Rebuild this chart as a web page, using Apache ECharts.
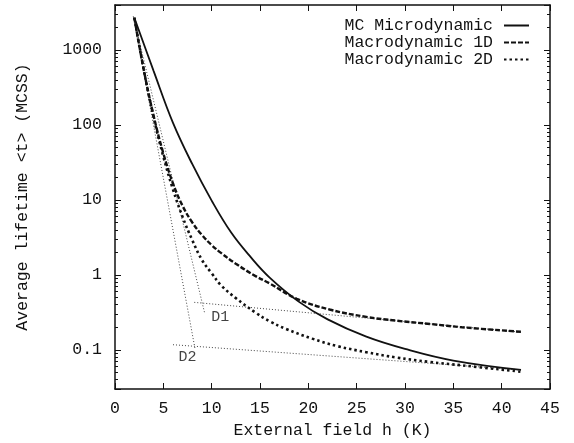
<!DOCTYPE html>
<html>
<head>
<meta charset="utf-8">
<script src="https://cdn.jsdelivr.net/npm/echarts@6/dist/echarts.min.js"></script>
<style>
html, body { margin: 0; padding: 0; background: #fff; }
#chart { width: 574px; height: 443px; }
</style>
</head>
<body>
<div id="chart"></div>
<script>
// values (h in K, lifetime in MCSS)
var mcH = [2, 4, 6, 8, 10, 12, 14, 16, 19, 22, 26, 30, 35, 42];
var mcT = [2700, 525, 107, 30, 9.8, 3.7, 1.75, 0.92, 0.44, 0.255, 0.15, 0.103, 0.072, 0.054];

var d1H = [2, 3, 4, 5, 6, 7, 8, 9, 10, 11, 12.5, 14.5, 16, 18.8, 22.2, 26, 29.1, 32.8, 35.9, 42];
var d1T = [2700, 525, 132, 42, 16.6, 8.3, 5.0, 3.4, 2.5, 1.95, 1.41, 0.97, 0.77, 0.48, 0.345, 0.275, 0.245, 0.22, 0.2, 0.174];

var d2H = [2, 3, 4, 5, 6, 7, 8, 9, 10, 11, 12.5, 14.5, 16, 17.7, 20.4, 23, 26, 29.1, 32.5, 35.9, 42];
var d2T = [2700, 525, 126, 38, 13.8, 5.9, 2.9, 1.58, 1.05, 0.72, 0.49, 0.316, 0.24, 0.19, 0.141, 0.112, 0.093, 0.079, 0.069, 0.062, 0.051];

// thin dotted guide lines (D1, D2)
var g1SteepH = [1.9, 9.3];
var g1SteepT = [2800, 0.3];
var g1FlatH = [8.2, 42];
var g1FlatT = [0.43, 0.172];
var g2SteepH = [1.9, 8.3];
var g2SteepT = [2800, 0.1];
var g2FlatH = [6.0, 42];
var g2FlatT = [0.117, 0.054];

var noteH = [10.9, 7.5];
var noteT = [0.27, 0.079];
var noteText = ["D1", "D2"];

var xTicks = [0, 5, 10, 15, 20, 25, 30, 35, 40, 45];

var seriesNames = ["MC Microdynamic", "Macrodynamic 1D", "Macrodynamic 2D"];

function pairs(h, t) {
    var out = [];
    for (var i = 0; i < h.length; i++) {
        out.push([h[i], t[i]]);
    }
    return out;
}

var font = "Liberation Mono";
var fs = 16.5;
var ink = "#111";

function guide(h, t) {
    return {
        type: "line",
        data: pairs(h, t),
        symbol: "none",
        silent: true,
        lineStyle: { color: "#444", width: 1, type: [1, 2] },
        z: 1
    };
}

var myChart = echarts.init(document.getElementById("chart"), null, { renderer: "canvas" });

var frameTick = { inside: true, length: 6, lineStyle: { color: ink, width: 1 } };
var frameMinor = { show: true, splitNumber: 9, length: 3, lineStyle: { color: ink, width: 1 } };
var frameLine = { show: true, onZero: false, lineStyle: { color: ink, width: 1.5 } };

var notes = [];
for (var i = 0; i < noteH.length; i++) {
    notes.push({ name: noteText[i], value: [noteH[i], noteT[i]] });
}

myChart.setOption({
    animation: false,
    backgroundColor: "#fff",
    grid: { left: 115, right: 24, top: 5, bottom: 54, containLabel: false, outerBoundsMode: "none" },
    legend: {
        data: seriesNames,
        orient: "vertical",
        align: "right",
        right: 39,
        top: 12,
        itemWidth: 25,
        itemHeight: 10,
        itemGap: 0,
        itemStyle: { opacity: 0 },
        textStyle: { fontFamily: font, fontSize: fs, color: ink, padding: [0, 6, 0, 0] }
    },
    xAxis: [{
        type: "value",
        min: xTicks[0],
        max: xTicks[xTicks.length - 1],
        interval: 5,
        name: "External field h (K)",
        nameLocation: "middle",
        nameGap: 28,
        nameTextStyle: { fontFamily: font, fontSize: fs, color: ink },
        axisLine: frameLine,
        axisTick: frameTick,
        axisLabel: { fontFamily: font, fontSize: fs, color: ink, margin: 11 },
        splitLine: { show: false }
    }, {
        type: "value",
        position: "top",
        min: xTicks[0],
        max: xTicks[xTicks.length - 1],
        interval: 5,
        axisLine: frameLine,
        axisTick: frameTick,
        axisLabel: { show: false },
        splitLine: { show: false }
    }],
    yAxis: [{
        type: "log",
        logBase: 10,
        min: 0.03,
        max: 4000,
        name: "Average lifetime <t> (MCSS)",
        nameLocation: "middle",
        nameGap: 84,
        nameTextStyle: { fontFamily: font, fontSize: fs, color: ink },
        axisLine: frameLine,
        axisTick: frameTick,
        minorTick: frameMinor,
        axisLabel: {
            fontFamily: font,
            fontSize: fs,
            color: ink,
            margin: 13,
            showMinLabel: false,
            showMaxLabel: false,
            formatter: function(v) {
                return parseFloat(Number(v).toPrecision(6)).toString();
            }
        },
        splitLine: { show: false }
    }, {
        type: "log",
        logBase: 10,
        position: "right",
        min: 0.03,
        max: 4000,
        axisLine: frameLine,
        axisTick: frameTick,
        minorTick: frameMinor,
        axisLabel: { show: false },
        splitLine: { show: false }
    }],
    series: [
        guide(g1SteepH, g1SteepT),
        guide(g1FlatH, g1FlatT),
        guide(g2SteepH, g2SteepT),
        guide(g2FlatH, g2FlatT),
        {
            name: seriesNames[0],
            type: "line",
            data: pairs(mcH, mcT),
            smooth: 0.4,
            symbol: "none",
            itemStyle: { color: ink },
            lineStyle: { color: ink, width: 1.8, type: "solid" },
            z: 3
        },
        {
            name: seriesNames[1],
            type: "line",
            data: pairs(d1H, d1T),
            smooth: 0.4,
            symbol: "none",
            itemStyle: { color: ink },
            lineStyle: { color: ink, width: 2.4, type: [5, 2] },
            z: 3
        },
        {
            name: seriesNames[2],
            type: "line",
            data: pairs(d2H, d2T),
            smooth: 0.4,
            symbol: "none",
            itemStyle: { color: ink },
            lineStyle: { color: ink, width: 2.6, type: [2.5, 3] },
            z: 3
        },
        {
            type: "scatter",
            data: notes,
            symbolSize: 0,
            silent: true,
            label: {
                show: true,
                position: "inside",
                formatter: "{b}",
                fontFamily: font,
                fontSize: 15,
                color: ink
            }
        }
    ]
});
</script>
</body>
</html>
